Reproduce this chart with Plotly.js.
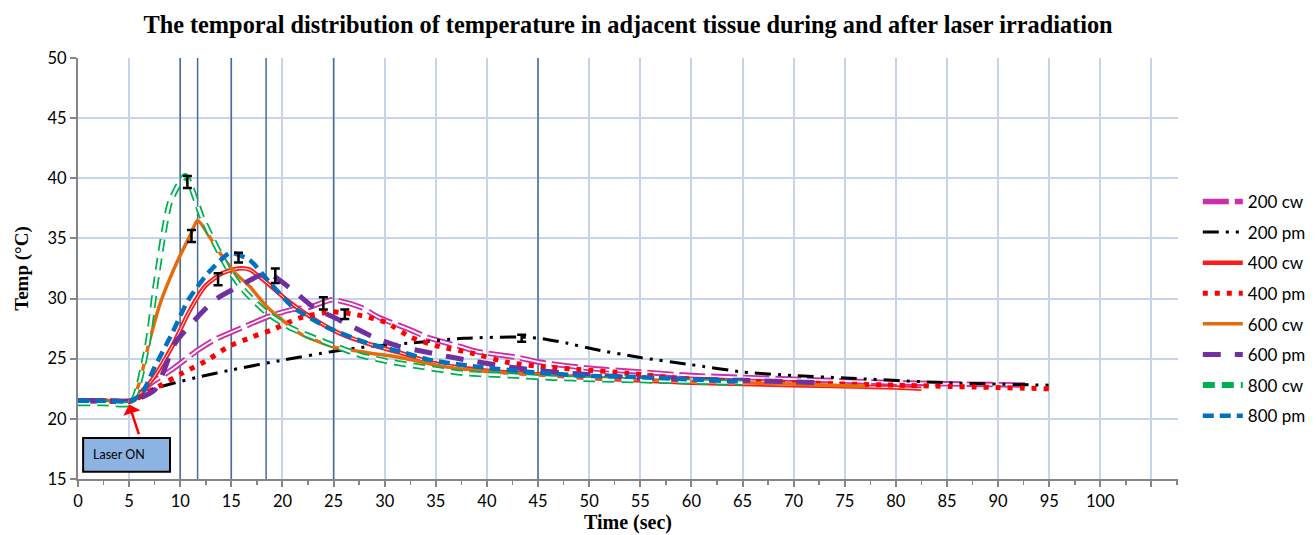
<!DOCTYPE html>
<html>
<head>
<meta charset="utf-8">
<script src="https://cdn.plot.ly/plotly-3.0.1.min.js"></script>
<style>html,body{margin:0;padding:0;background:#fff;}#chart{width:1316px;height:535px;}</style>
</head>
<body>
<div id="chart"></div>
<script>
// ---- data ----
const seriesNames = ["200 cw", "200 pm", "400 cw", "400 pm", "600 cw", "600 pm", "800 cw", "800 pm"];

const t200cw = [0, 2.5, 5.2, 7.2, 9.2, 11.7, 13.4, 16.1, 18.6, 21, 22.7, 24.9, 27.6, 29.5, 32.5, 34.1, 37.4, 39, 43, 45.2, 50, 55, 60, 70, 80, 93];
const v200cw = [21.5, 21.5, 21.5, 23.0, 24.1, 25.7, 26.6, 27.6, 28.5, 29.1, 29.3, 29.9, 29.3, 28.4, 27.4, 26.8, 26.0, 25.6, 25.1, 24.7, 24.2, 23.9, 23.6, 23.3, 23.0, 22.8];

const t200pm = [0, 2.5, 5.2, 6.3, 9.5, 11.9, 15.2, 20.1, 24.9, 28.3, 32.5, 37.7, 43, 45.2, 47.8, 50.4, 55, 60, 65, 70, 75, 85, 95];
const v200pm = [21.5, 21.5, 21.5, 22.2, 23.0, 23.5, 24.1, 24.9, 25.6, 26.0, 26.3, 26.7, 26.8, 26.7, 26.3, 25.8, 25.1, 24.5, 23.9, 23.6, 23.4, 23.0, 22.8];

const t400cw = [0, 2.5, 5.2, 7.2, 9.2, 10.8, 12.4, 14.1, 15.7, 16.8, 18.5, 20.4, 22.7, 25.6, 29.3, 31.5, 35, 40, 45, 50, 60, 70, 80, 82.5];
const v400cw = [21.5, 21.5, 21.5, 23.2, 26.0, 28.8, 31.0, 32.1, 32.5, 32.4, 31.3, 29.9, 28.5, 27.1, 26.0, 25.5, 24.6, 24.0, 23.7, 23.4, 23.0, 22.8, 22.6, 22.5];

const t400pm = [0, 2.5, 5.2, 7.9, 10.2, 12.7, 14.7, 17, 19, 21.7, 24.9, 27.6, 30.2, 32.5, 35.4, 38.4, 42, 45.9, 49.1, 53.7, 60, 70, 80, 95];
const v400pm = [21.5, 21.5, 21.5, 22.7, 23.8, 24.9, 26.0, 26.8, 27.4, 28.4, 28.9, 28.6, 28.0, 26.8, 26.0, 25.5, 24.7, 24.3, 24.1, 23.8, 23.3, 23.0, 22.8, 22.5];

const t600cw = [0, 2.5, 5.2, 6.0, 7.0, 8.0, 9.0, 10.0, 11.0, 11.7, 13.7, 15.4, 16.8, 18.5, 21.7, 24.9, 28.3, 31.5, 36.1, 42.6, 49.1, 60, 70, 77];
const v600cw = [21.5, 21.5, 21.5, 23.0, 26.5, 29.5, 31.7, 33.6, 35.3, 36.5, 34.0, 32.1, 31.0, 29.3, 27.1, 26.0, 25.5, 25.1, 24.3, 23.8, 23.5, 23.1, 22.9, 22.7];

const t600pm = [0, 2.5, 5.2, 7.5, 9.5, 11.4, 13.4, 15.7, 18.5, 21, 23, 25.6, 28.9, 31.5, 33.8, 36.7, 39.3, 42.3, 45.2, 47.8, 55, 65, 73];
const v600pm = [21.5, 21.5, 21.5, 22.4, 26.3, 28.2, 29.9, 31.0, 32.1, 30.7, 29.3, 28.2, 26.8, 26.0, 25.6, 25.1, 24.7, 24.3, 24.0, 23.8, 23.4, 23.2, 23.0];

const t800cw = [0, 2.5, 5.2, 6.75, 7.7, 9.0, 10.5, 12.1, 12.9, 14.6, 16.2, 18.5, 20.7, 24.4, 27.6, 30.2, 33.8, 37.7, 42.3, 46.5, 50.4, 55, 65];
const v800cw = [21.3, 21.3, 21.3, 26.0, 31.8, 38.0, 40.2, 36.8, 35.4, 32.6, 30.7, 28.8, 27.6, 26.3, 25.3, 24.8, 24.3, 23.8, 23.6, 23.4, 23.3, 23.2, 23.0];

const t800pm = [0, 2.5, 5.2, 6.3, 7.5, 9.2, 10.8, 12.7, 14.9, 16.8, 18.8, 21, 24.4, 28.3, 31.5, 34.4, 39.3, 44.2, 49.1, 53.7, 65];
const v800pm = [21.5, 21.5, 21.5, 22.2, 24.3, 27.1, 29.9, 32.1, 33.8, 33.2, 31.3, 29.3, 27.6, 26.3, 25.6, 24.9, 24.3, 23.9, 23.6, 23.5, 23.1];

// error bars
const errT = [10.7, 11.1, 13.7, 15.7, 19.3, 24.0, 26.1, 43.4];
const errV = [39.7, 35.2, 31.6, 33.4, 31.9, 29.6, 28.7, 26.7];
const errE = [0.5, 0.5, 0.5, 0.4, 0.6, 0.5, 0.4, 0.3];

// vertical reference lines (time, sec)
const markerTimes = [10, 11.7, 15, 18.4, 25, 45];

// axis ticks
const xTickVals = [0,5,10,15,20,25,30,35,40,45,50,55,60,65,70,75,80,85,90,95,100,105];
const xTickText = ["0","5","10","15","20","25","30","35","40","45","50","55","60","65","70","75","80","85","90","95","100",""];

// ---- traces ----
const sp = {shape: 'spline', smoothing: 0.6};
function tr(name, x, y, line, show, group) {
  return {type: 'scatter', mode: 'lines', name: name, x: x, y: y,
          line: Object.assign({}, sp, line), showlegend: show, legendgroup: group, hoverinfo: 'skip'};
}
const traces = [
  tr(seriesNames[0], t200cw, v200cw, {color: '#cc2eaa', width: 5.5, dash: '26px,6px'}, true, 'g1'),
  tr('', t200cw, v200cw, {color: '#ffffff', width: 1.8, dash: '26px,6px'}, false, 'g1'),
  tr(seriesNames[1], t200pm, v200pm, {color: '#000000', width: 3, dash: '16px,7px,3px,7px,3px,7px'}, true, 'g2'),
  tr(seriesNames[2], t400cw, v400cw, {color: '#ff1a1a', width: 4.5}, true, 'g3'),
  tr('', t400cw, v400cw, {color: '#ffffff', width: 1}, false, 'g3'),
  tr(seriesNames[3], t400pm, v400pm, {color: '#ff0000', width: 5, dash: '5px,7px'}, true, 'g4'),
  tr(seriesNames[4], t600cw, v600cw, {color: '#e46c0a', width: 3.5}, true, 'g5'),
  tr(seriesNames[5], t600pm, v600pm, {color: '#7030a0', width: 5, dash: '18px,14px'}, true, 'g6'),
  tr(seriesNames[6], t800cw, v800cw, {color: '#00b050', width: 6, dash: '12px,7px'}, true, 'g7'),
  tr('', t800cw, v800cw, {color: '#ffffff', width: 2.5, dash: '12px,7px'}, false, 'g7'),
  tr(seriesNames[7], t800pm, v800pm, {color: '#0070c0', width: 4.5, dash: '11px,6px'}, true, 'g8'),
  {type: 'scatter', mode: 'markers', x: errT, y: errV, showlegend: false, hoverinfo: 'skip',
   marker: {size: 1, color: 'rgba(0,0,0,0)'},
   error_y: {type: 'data', array: errE, visible: true, color: '#000000', thickness: 2.5, width: 4.5}}
];

// ---- shapes ----
const shapes = markerTimes.map(t => ({type: 'line', xref: 'x', yref: 'y', x0: t, x1: t, y0: 15, y1: 50,
  line: {color: '#4a6a9c', width: 1.5}, layer: 'between'}));
shapes.push({type: 'rect', xref: 'x', yref: 'y', x0: 0.5, x1: 9.0, y0: 15.6, y1: 18.4,
  fillcolor: '#8db3e2', line: {color: '#000000', width: 2}, layer: 'above'});

const serif = '"Liberation Serif", "Times New Roman", serif';
const sans = 'Lato, "Open Sans", sans-serif';

const layout = {
  width: 1316, height: 535,
  margin: {l: 78, r: 138, t: 58, b: 56, autoexpand: false},
  paper_bgcolor: '#ffffff', plot_bgcolor: '#ffffff',
  font: {family: sans, size: 16, color: '#000'},
  title: {text: 'The temporal distribution of temperature in adjacent tissue during and after laser irradiation',
          x: 0.5, xref: 'paper', xanchor: 'center', y: 0.955, yanchor: 'middle', yref: 'container',
          font: {family: serif, size: 24.3, color: '#000', weight: 'bold'}},
  xaxis: {range: [0, 107.6], tickvals: xTickVals, ticktext: xTickText,
          showgrid: true, gridcolor: '#c6d5ec', gridwidth: 2,
          showline: true, linecolor: '#858585', linewidth: 2,
          ticks: 'outside', ticklen: 6, tickcolor: '#858585', tickwidth: 2,
          minor: {dtick: 2.5, tick0: 0, ticks: 'outside', ticklen: 4, tickcolor: '#858585', tickwidth: 1.5, showgrid: false},
          zeroline: false, tickfont: {size: 16.5},
          title: {text: 'Time (sec)', standoff: 4,
                  font: {family: serif, size: 20, color: '#000', weight: 'bold'}}},
  yaxis: {range: [15, 50], dtick: 5, tick0: 15,
          showgrid: true, gridcolor: '#c6d5ec', gridwidth: 2,
          showline: true, linecolor: '#858585', linewidth: 2,
          ticks: 'outside', ticklen: 6, tickcolor: '#858585', tickwidth: 2,
          zeroline: false, tickfont: {size: 16.5},
          title: {text: 'Temp (°C)', standoff: 14,
                  font: {family: serif, size: 19, color: '#000', weight: 'bold'}}},
  legend: {x: 1.018, xanchor: 'left', y: 0.404, yanchor: 'middle', traceorder: 'grouped',
           tracegroupgap: 5.5, font: {size: 17, family: sans},
           bgcolor: 'rgba(0,0,0,0)', itemwidth: 40},
  shapes: shapes,
  annotations: [
    {x: 4.0, y: 17.0, xref: 'x', yref: 'y', text: 'Laser ON', showarrow: false,
     font: {size: 12.5, family: sans, color: '#000'}},
    {x: 5.0, y: 21.2, xref: 'x', yref: 'y', ax: 6.0, ay: 18.6, axref: 'x', ayref: 'y', text: '',
     showarrow: true, arrowhead: 1, arrowsize: 1.2, arrowwidth: 2.5, arrowcolor: '#ff0000'}
  ],
  showlegend: true
};

Plotly.newPlot('chart', traces, layout, {displayModeBar: false, staticPlot: true});
</script>
</body>
</html>
